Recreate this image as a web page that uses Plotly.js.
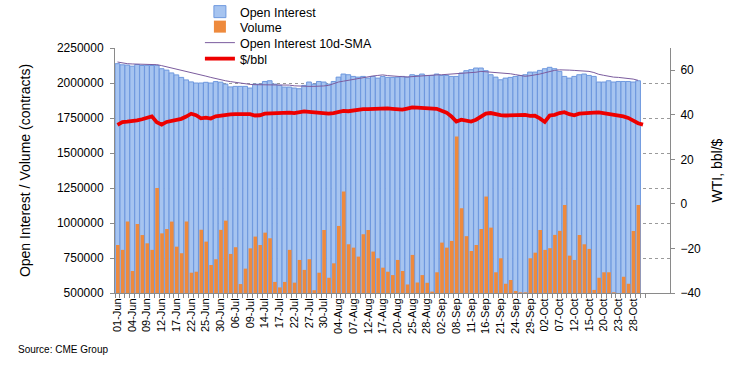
<!DOCTYPE html>
<html>
<head>
<meta charset="utf-8">
<script src="https://cdn.plot.ly/plotly-3.0.1.min.js"></script>
<style>
html,body{margin:0;padding:0;background:#fff;}
#chart{width:737px;height:370px;}
</style>
</head>
<body>
<div id="chart"></div>
<script>
// Business-day categories (01-Jun .. 06-Nov)
const dates = [
 "01-Jun","02-Jun","03-Jun","04-Jun","05-Jun","08-Jun","09-Jun","10-Jun","11-Jun","12-Jun",
 "15-Jun","16-Jun","17-Jun","18-Jun","19-Jun","22-Jun","23-Jun","24-Jun","25-Jun","26-Jun",
 "29-Jun","30-Jun","01-Jul","02-Jul","06-Jul","07-Jul","08-Jul","09-Jul","10-Jul","13-Jul",
 "14-Jul","15-Jul","16-Jul","17-Jul","20-Jul","21-Jul","22-Jul","23-Jul","24-Jul","27-Jul",
 "28-Jul","29-Jul","30-Jul","31-Jul","03-Aug","04-Aug","05-Aug","06-Aug","07-Aug","10-Aug",
 "11-Aug","12-Aug","13-Aug","14-Aug","17-Aug","18-Aug","19-Aug","20-Aug","21-Aug","24-Aug",
 "25-Aug","26-Aug","27-Aug","28-Aug","31-Aug","01-Sep","02-Sep","03-Sep","04-Sep","08-Sep",
 "09-Sep","10-Sep","11-Sep","14-Sep","15-Sep","16-Sep","17-Sep","18-Sep","21-Sep","22-Sep",
 "23-Sep","24-Sep","25-Sep","28-Sep","29-Sep","30-Sep","01-Oct","02-Oct","05-Oct","06-Oct",
 "07-Oct","08-Oct","09-Oct","12-Oct","13-Oct","14-Oct","15-Oct","16-Oct","19-Oct","20-Oct",
 "21-Oct","22-Oct","23-Oct","26-Oct","27-Oct","28-Oct","29-Oct","30-Oct","02-Nov","03-Nov",
 "04-Nov","05-Nov","06-Nov"
];

const tickLabels = [
 "01-Jun","04-Jun","09-Jun","12-Jun","17-Jun","22-Jun","25-Jun","30-Jun","06-Jul","09-Jul",
 "14-Jul","17-Jul","22-Jul","27-Jul","30-Jul","04-Aug","07-Aug","12-Aug","17-Aug","20-Aug",
 "25-Aug","28-Aug","02-Sep","08-Sep","11-Sep","16-Sep","21-Sep","24-Sep","29-Sep","02-Oct",
 "07-Oct","12-Oct","15-Oct","20-Oct","23-Oct","28-Oct","02-Nov","05-Nov"
];

const openInterest = [
 2138000,2130000,2128000,2120000,2132000,2125000,2126000,2125000,2126000,2102000,
 2092000,2072000,2058000,2040000,2022000,2008000,2000000,2000000,2005000,2000000,
 2010000,2006000,1992000,1972000,1976000,1976000,1976000,1964000,1992000,1992000,
 2011000,2016000,1992000,1983000,1971000,1971000,1964000,1959000,1983000,2007000,
 1992000,2011000,2007000,1992000,2011000,2042000,2064000,2059000,2047000,2042000,
 2047000,2035000,2047000,2035000,2047000,2040000,2040000,2042000,2047000,2042000,
 2059000,2054000,2064000,2054000,2054000,2064000,2054000,2054000,2047000,2047000,
 2071000,2088000,2095000,2107000,2107000,2088000,2059000,2042000,2023000,2035000,
 2040000,2047000,2054000,2059000,2078000,2078000,2090000,2102000,2112000,2102000,
 2083000,2047000,2035000,2047000,2059000,2064000,2054000,2047000,2007000,2007000,
 2016000,2007000,2011000,2011000,2011000,2007000,2016000
];

const volume = [
 843000,808000,1010000,657000,993000,914000,855000,808000,1250000,926000,
 957000,1010000,831000,784000,1010000,645000,652000,951000,867000,700000,
 741000,951000,1017000,779000,827000,564000,674000,819000,903000,843000,
 931000,891000,579000,540000,579000,808000,574000,736000,665000,741000,
 520000,645000,950000,609000,712000,979000,1225000,848000,824000,760000,
 920000,950000,796000,748000,681000,652000,628000,736000,657000,561000,
 772000,575000,628000,573000,510000,648000,860000,824000,872000,1618000,
 1105000,906000,800000,843000,958000,1189000,967000,648000,748000,566000,
 593000,514000,505000,505000,748000,788000,950000,808000,820000,915000,
 944000,1128000,767000,736000,915000,848000,815000,522000,609000,648000,
 648000,505000,498000,616000,566000,943000,1128000
];

const oiSma10 = [
 2150000,2142000,2138000,2136000,2135000,2134000,2133000,2132000,2131000,2124000,
 2116000,2108000,2101000,2094000,2085000,2076000,2067000,2059000,2049000,2040000,
 2031000,2023000,2016000,2010000,2004000,1999000,1995000,1990000,1988000,1988000,
 1988000,1987000,1987000,1988000,1988000,1985000,1980000,1977000,1976000,1976000,
 1976000,1976000,1979000,1983000,1995000,2007000,2013000,2020000,2027000,2033000,
 2040000,2045000,2050000,2054000,2058000,2053000,2049000,2046000,2045000,2043000,
 2046000,2049000,2053000,2055000,2057000,2058000,2059000,2061000,2063000,2064000,
 2066000,2068000,2071000,2077000,2083000,2081000,2078000,2076000,2073000,2071000,
 2066000,2060000,2055000,2048000,2052000,2057000,2064000,2073000,2082000,2090000,
 2094000,2095000,2092000,2090000,2088000,2086000,2083000,2075000,2062000,2055000,
 2048000,2042000,2040000,2037000,2035000,2028000,2019000
];

const wtiPrice = [
 35.5,36.7,36.9,37.0,37.5,38.0,38.5,39.3,36.7,35.6,
 36.8,37.2,37.6,38.2,39.2,40.5,39.8,38.4,38.7,38.3,
 39.3,39.7,39.8,40.2,40.3,40.4,40.6,40.3,39.7,39.8,
 40.5,40.6,40.6,40.9,41.1,41.0,40.8,41.2,41.5,41.3,
 41.1,40.7,40.3,40.5,40.8,41.5,41.8,41.6,42.0,42.2,
 42.6,42.6,42.7,42.8,43.0,42.9,42.7,42.5,42.3,42.8,
 43.3,43.2,43.0,43.0,42.8,42.7,41.8,41.0,39.3,37.0,
 37.8,37.5,37.0,37.8,39.3,40.5,40.8,40.2,39.9,39.7,
 39.7,39.7,39.8,40.0,39.5,39.6,38.4,36.8,39.7,40.0,
 40.8,41.2,40.3,39.8,40.5,40.8,41.0,41.0,41.1,40.8,
 40.2,40.0,40.0,39.3,38.6,37.3,36.2,35.6
];

const ticktext = dates.map(d => tickLabels.includes(d) ? d : "");

const traces = [
  {
    type: 'bar', name: 'Open Interest', legend: 'legend',
    x: dates.slice(0, openInterest.length), y: openInterest,
    marker: {color: '#a6c4f0', line: {color: '#6e98de', width: 1}},
    width: 0.96, offset: -0.48,
    hoverinfo: 'skip'
  },
  {
    type: 'bar', name: 'Volume', legend: 'legend2',
    x: dates.slice(0, volume.length), y: volume,
    marker: {color: '#ee8a3d', line: {width: 0}},
    width: 0.74, offset: -0.3,
    hoverinfo: 'skip'
  },
  {
    type: 'scatter', mode: 'lines', name: 'Open Interest 10d-SMA', legend: 'legend3',
    x: dates.slice(0, oiSma10.length), y: oiSma10,
    line: {color: '#7b5c9e', width: 1},
    hoverinfo: 'skip'
  },
  {
    type: 'scatter', mode: 'lines', name: '$/bbl', legend: 'legend4',
    x: dates.slice(0, wtiPrice.length), y: wtiPrice,
    yaxis: 'y2',
    line: {color: '#ee0000', width: 3.8},
    hoverinfo: 'skip'
  }
];

const axisGrey = '#8a8a8a';
function legendAt(py) {
  return {
    x: 0.153, y: (293 - py) / 245, xanchor: 'left', yanchor: 'middle',
    bgcolor: 'rgba(255,255,255,0)', borderwidth: 0,
    font: {size: 12.5, color: '#000'},
    itemwidth: 30
  };
}
const layout = {
  width: 737, height: 370,
  margin: {l: 115, r: 67, t: 48, b: 77, pad: 0, autoexpand: false},
  paper_bgcolor: '#ffffff', plot_bgcolor: '#ffffff',
  font: {family: '"Liberation Sans", Arial, sans-serif', size: 12, color: '#000'},
  barmode: 'overlay',
  showlegend: true,
  legend: legendAt(12),
  legend2: legendAt(27),
  legend3: legendAt(43),
  legend4: legendAt(59),
  xaxis: {
    type: 'category', range: [-0.5, dates.length - 0.5],
    tickmode: 'array', tickvals: dates, ticktext: ticktext,
    tickangle: -90, tickfont: {size: 11},
    ticks: 'outside', ticklen: 4, tickcolor: axisGrey, tickson: 'boundaries',
    showline: true, linecolor: axisGrey, linewidth: 1,
    showgrid: false, zeroline: false, fixedrange: true
  },
  yaxis: {
    range: [500000, 2250000], tick0: 500000, dtick: 250000, tickformat: 'd',
    tickfont: {size: 12},
    ticks: 'outside', ticklen: 4, tickcolor: axisGrey, ticklabelstandoff: 4,
    showline: true, linecolor: axisGrey, linewidth: 1,
    showgrid: true, gridcolor: '#9a9a9a', griddash: 'dot', gridwidth: 1,
    zeroline: false, fixedrange: true,
    title: {text: 'Open Interest / Volume (contracts)', font: {size: 14}, standoff: 22}
  },
  yaxis2: {
    overlaying: 'y', side: 'right',
    range: [-40, 70], tickvals: [-40, -20, 0, 20, 40, 60],
    tickfont: {size: 12},
    ticks: 'outside', ticklen: 4, tickcolor: axisGrey, ticklabelstandoff: 3,
    showline: true, linecolor: axisGrey, linewidth: 1,
    showgrid: false, zeroline: false, fixedrange: true,
    title: {text: 'WTI, bbl/$', font: {size: 14}, standoff: 12}
  },
  shapes: [{
    type: 'rect', xref: 'paper', yref: 'paper', layer: 'above',
    x0: 0.1315, x1: 0.492, y0: 0.99, y1: 1.012,
    fillcolor: '#ffffff', line: {width: 0}
  }],
  annotations: [{
    text: 'Source: CME Group', xref: 'paper', yref: 'paper',
    x: -0.178, y: -0.23, xanchor: 'left', yanchor: 'middle',
    showarrow: false, font: {size: 10, color: '#000'}
  }]
};

Plotly.newPlot('chart', traces, layout, {displayModeBar: false, staticPlot: true});
</script>
</body>
</html>
